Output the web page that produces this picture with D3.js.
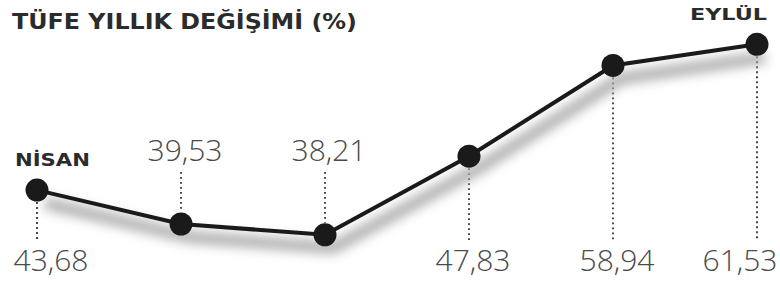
<!DOCTYPE html>
<html>
<head>
<meta charset="utf-8">
<script src="https://cdn.jsdelivr.net/npm/d3@7"></script>
<style>
  body { margin: 0; background: #fff; }
  svg { display: block; }
</style>
</head>
<body>
<div id="chart"></div>
<script>
const months = ['Nisan', 'Mayıs', 'Haziran', 'Temmuz', 'Ağustos', 'Eylül'];
const values = [43.68, 39.53, 38.21, 47.83, 58.94, 61.53];
const labelAbove = [false, true, true, false, false, false];
const title = 'TÜFE YILLIK DEĞİŞİMİ (%)';

const width = 780;
const height = 282;

const trLocale = d3.formatLocale({ decimal: ',', thousands: '.', grouping: [3], currency: ['', ' TL'] });
const fmt = trLocale.format('.2f');

// Scales
var x = d3.scalePoint()
  .domain(months)
  .range([37, 757]);

var y = d3.scaleLinear()
  .domain([35, 65])
  .range([261, 16]);

var svg = d3.select('#chart')
  .append('svg')
  .attr('width', width)
  .attr('height', height);

// soft shadow under the line
var defs = svg.append('defs');
var blur = defs.append('filter')
  .attr('id', 'shadow')
  .attr('x', '-10%').attr('y', '-30%')
  .attr('width', '130%').attr('height', '180%');
blur.append('feGaussianBlur').attr('stdDeviation', 6);

var line = d3.line()
  .x(function (d, i) { return x(months[i]); })
  .y(function (d) { return y(d); });

// heading, stretched to the wide face of the original
svg.append('text')
  .attr('x', 12)
  .attr('y', 29)
  .attr('font-family', '"DejaVu Sans", sans-serif')
  .attr('font-weight', 'bold')
  .attr('font-size', '22px')
  .attr('textLength', 345)
  .attr('lengthAdjust', 'spacingAndGlyphs')
  .attr('fill', '#2b2b2b')
  .text(title);

// dotted leaders
svg.append('g')
  .selectAll('line')
  .data(values)
  .enter()
  .append('line')
  .attr('x1', function (d, i) { return x(months[i]); })
  .attr('x2', function (d, i) { return x(months[i]); })
  .attr('y1', function (d, i) { return labelAbove[i] ? 172 : y(d) + 12; })
  .attr('y2', function (d, i) { return labelAbove[i] ? y(d) - 12 : 240; })
  .attr('stroke', '#333')
  .attr('stroke-width', 1.8)
  .attr('stroke-dasharray', '1.8 3.2');

svg.append('path')
  .datum(values)
  .attr('d', line)
  .attr('transform', 'translate(8,13)')
  .attr('fill', 'none')
  .attr('stroke', '#a8a8a8')
  .attr('stroke-width', 11)
  .attr('filter', 'url(#shadow)');

svg.append('path')
  .datum(values)
  .attr('d', line)
  .attr('fill', 'none')
  .attr('stroke', '#1a1a1a')
  .attr('stroke-width', 4);

svg.append('g')
  .selectAll('circle')
  .data(values)
  .enter()
  .append('circle')
  .attr('cx', function (d, i) { return x(months[i]); })
  .attr('cy', function (d) { return y(d); })
  .attr('r', 11.5)
  .attr('fill', '#1a1a1a');

// value labels
svg.append('g')
  .selectAll('text')
  .data(values)
  .enter()
  .append('text')
  .text(function (d) { return fmt(d); })
  .attr('x', function (d, i) {
    var off = i === 0 ? 14 : (i === values.length - 1 ? -17 : 4);
    return x(months[i]) + off;
  })
  .attr('y', function (d, i) { return labelAbove[i] ? 161 : 271; })
  .attr('text-anchor', 'middle')
  .attr('font-family', '"Open Sans", sans-serif')
  .attr('font-weight', 300)
  .attr('font-size', '30px')
  .attr('fill', '#4a4a4a');

// first and last month names
svg.append('text')
  .attr('x', 15)
  .attr('y', 166)
  .attr('font-family', '"DejaVu Sans", sans-serif')
  .attr('font-weight', 'bold')
  .attr('font-size', '17px')
  .attr('textLength', 75)
  .attr('lengthAdjust', 'spacingAndGlyphs')
  .attr('fill', '#2b2b2b')
  .text(months[0].toLocaleUpperCase('tr'));

svg.append('text')
  .attr('x', 690)
  .attr('y', 20)
  .attr('font-family', '"DejaVu Sans", sans-serif')
  .attr('font-weight', 'bold')
  .attr('font-size', '16px')
  .attr('textLength', 77)
  .attr('lengthAdjust', 'spacingAndGlyphs')
  .attr('fill', '#2b2b2b')
  .text(months[months.length - 1].toLocaleUpperCase('tr'));
</script>
</body>
</html>
